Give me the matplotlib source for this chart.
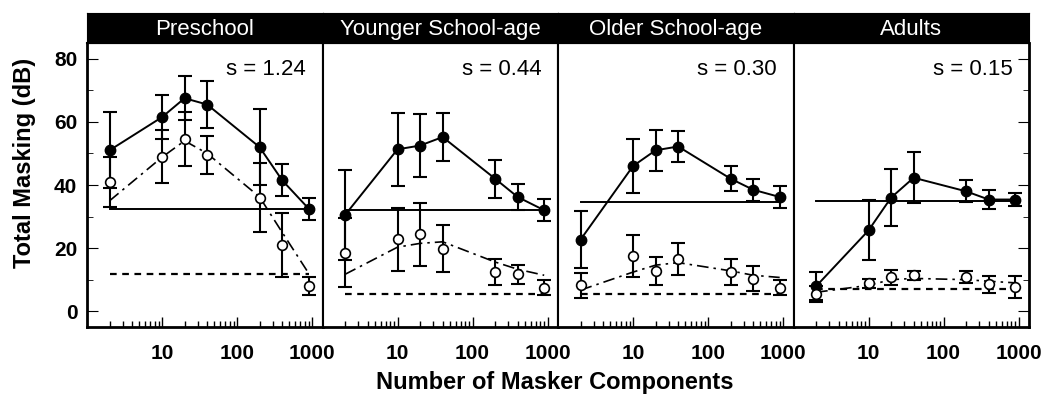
import matplotlib
matplotlib.use("Agg")
import matplotlib.pyplot as plt
from matplotlib.ticker import LogLocator, NullFormatter, MultipleLocator

plt.rcParams['font.family'] = ['Liberation Sans', 'DejaVu Sans']

# number of masker components (x positions shared by every panel)
components = [2, 10, 20, 40, 200, 400, 903]

groups = ['Preschool', 'Younger School-age', 'Older School-age', 'Adults']
slopes = ['s = 1.24', 's = 0.44', 's = 0.30', 's = 0.15']

# filled circles (mean total masking, dB) and error bars
filled_mean = [
    [51.0, 61.5, 67.5, 65.5, 52.0, 41.5, 32.5],
    [30.5, 51.3, 52.5, 55.2, 42.0, 36.2, 32.0],
    [22.7, 46.0, 51.0, 52.2, 42.0, 38.5, 36.2],
    [7.9, 25.6, 36.0, 42.3, 38.0, 35.4, 35.4],
]
filled_err = [
    [12.0, 7.0, 7.0, 7.5, 12.0, 5.0, 3.5],
    [14.4, 11.5, 10.0, 7.5, 6.0, 4.0, 3.5],
    [9.0, 8.5, 6.5, 5.0, 4.0, 3.5, 3.5],
    [4.5, 9.5, 9.0, 8.0, 3.5, 3.0, 2.0],
]

# open circles and error bars
open_mean = [
    [41.0, 49.0, 54.5, 49.5, 36.0, 21.0, 8.0],
    [18.6, 22.8, 24.4, 19.8, 12.4, 11.7, 7.5],
    [8.2, 17.5, 12.8, 16.5, 12.4, 10.3, 7.5],
    [5.4, 8.8, 10.7, 11.4, 10.9, 8.5, 7.7],
]
open_err = [
    [8.0, 8.5, 8.5, 6.0, 11.0, 10.0, 3.0],
    [11.0, 10.0, 10.0, 7.5, 4.0, 3.0, 2.5],
    [4.0, 6.5, 4.5, 5.0, 4.0, 4.0, 2.5],
    [2.5, 1.5, 2.5, 1.5, 2.0, 2.8, 3.5],
]

# dash-dot model curve
model_fit = [
    [35.0, 48.8, 54.0, 50.0, 36.2, 25.0, 12.0],
    [11.7, 20.3, 21.5, 22.0, 15.6, 13.3, 11.4],
    [6.7, 12.4, 14.6, 15.4, 12.8, 11.4, 10.7],
    [6.0, 8.2, 10.0, 10.4, 10.0, 9.5, 9.0],
]

# horizontal reference levels
solid_level = [32.5, 32.2, 34.6, 34.8]
dashed_level = [11.7, 5.4, 5.6, 7.2]

W, H = 1050, 404
fig = plt.figure(figsize=(W / 100, H / 100), dpi=100)

x0, x1 = 87, 1029
pw = (x1 - x0) / 4
y_top, y_bot = 43, 327

for i, name in enumerate(groups):
    ax = fig.add_axes([(x0 + i * pw) / W, (H - y_bot) / H, pw / W, (y_bot - y_top) / H])
    hx = fig.add_axes([(x0 + i * pw) / W, (H - y_top) / H, pw / W, 30 / H])
    hx.set_facecolor('black')
    hx.set_xticks([])
    hx.set_yticks([])
    for sp in hx.spines.values():
        sp.set_color('black')
    hx.text(0.5, 0.45, name, color='white', fontsize=16, ha='center', va='center',
            transform=hx.transAxes)

    # reference lines
    ax.plot([components[0], components[-1]], [solid_level[i]] * 2, color='black', lw=1.4, zorder=2)
    ax.plot([components[0], components[-1]], [dashed_level[i]] * 2, color='black', lw=1.6,
            ls=(0, (3, 2.5)), zorder=2)
    ax.plot(components, model_fit[i], color='black', lw=1.2, ls=(0, (7, 3, 1.5, 3)), zorder=2)

    # data
    ax.errorbar(components, open_mean[i], yerr=open_err[i], fmt='none', ecolor='black',
                elinewidth=1.5, capsize=5, capthick=1.5, zorder=3)
    ax.errorbar(components, filled_mean[i], yerr=filled_err[i], fmt='none', ecolor='black',
                elinewidth=1.5, capsize=5, capthick=1.5, zorder=3)
    ax.plot(components, filled_mean[i], color='black', lw=1.4, marker='o', ms=7.5,
            mfc='black', mec='black', zorder=4)
    ax.plot(components, open_mean[i], ls='none', marker='o', ms=7, mfc='white',
            mec='black', mew=1.2, zorder=5)

    ax.text(0.93, 0.905, slopes[i], transform=ax.transAxes, ha='right', va='center', fontsize=16)

    ax.set_xscale('log')
    ax.set_xlim(1, 1380)
    ax.set_ylim(-5, 85)
    ax.xaxis.set_major_locator(LogLocator(base=10, subs=(1.0,)))
    ax.xaxis.set_minor_locator(LogLocator(base=10, subs=range(2, 10)))
    ax.xaxis.set_minor_formatter(NullFormatter())
    ax.set_xticks([10, 100, 1000])
    ax.set_xticklabels(['10', '100', '1000'], fontweight='bold', fontsize=15)
    ax.tick_params(axis='x', which='major', direction='in', length=7, width=1, pad=12,
                   top=False)
    ax.tick_params(axis='x', which='minor', direction='in', length=4, width=1, top=False)

    ax.yaxis.set_major_locator(MultipleLocator(20))
    ax.yaxis.set_minor_locator(MultipleLocator(10))
    if i == 0:
        ax.set_yticks([0, 20, 40, 60, 80])
        ax.set_yticklabels(['0', '20', '40', '60', '80'], fontweight='bold', fontsize=15)
        ax.tick_params(axis='y', which='both', direction='in', left=True, right=False, pad=7)
        ax.tick_params(axis='y', which='major', length=8)
        ax.tick_params(axis='y', which='minor', length=4)
    elif i == 3:
        ax.tick_params(axis='y', which='both', direction='in', left=False, right=True,
                       labelleft=False)
        ax.tick_params(axis='y', which='major', length=8)
        ax.tick_params(axis='y', which='minor', length=4)
    else:
        ax.tick_params(axis='y', which='both', left=False, right=False, labelleft=False)

    for side, sp in ax.spines.items():
        sp.set_linewidth(1.5)
    ax.spines['bottom'].set_linewidth(2)
    if i == 0:
        ax.spines['left'].set_linewidth(2)
    if i == 3:
        ax.spines['right'].set_linewidth(2)

fig.text(555 / W, 1 - 383 / H, 'Number of Masker Components', ha='center', va='center',
         fontsize=17, fontweight='bold')
fig.text(25 / W, 1 - 163 / H, 'Total Masking (dB)', ha='center', va='center',
         rotation=90, fontsize=17, fontweight='bold')

fig.savefig('out.png', dpi=100)
